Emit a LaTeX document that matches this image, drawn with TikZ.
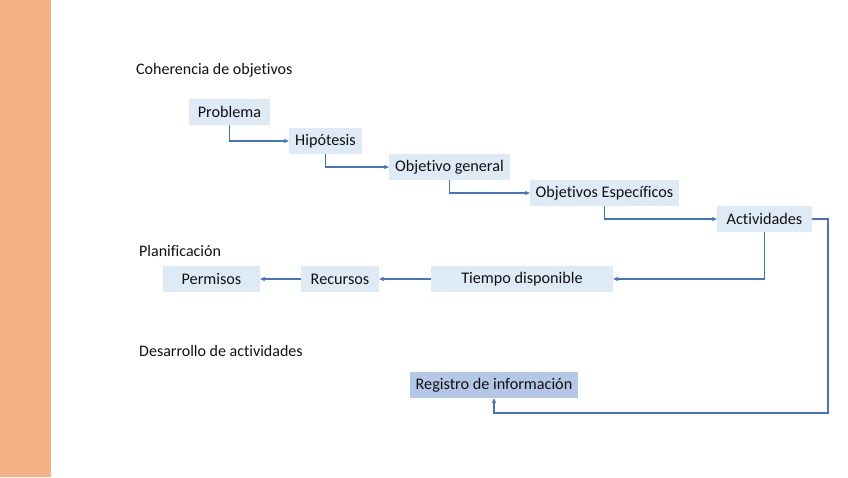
\documentclass[tikz,border=0pt]{standalone}
\usepackage{fontspec}
\setmainfont[Ligatures=NoCommon]{Carlito}
\usetikzlibrary{arrows.meta}
\definecolor{boxblue}{HTML}{DEEBF7}
\definecolor{boxdark}{HTML}{B4C7E7}
\definecolor{linkblue}{HTML}{4472C4}
\definecolor{barorange}{HTML}{F4B183}
\definecolor{txt}{HTML}{111111}
\begin{document}
\begin{tikzpicture}[x=1pt,y=-1pt,
  box/.style={fill=boxblue, inner sep=0pt, minimum height=26pt, text=txt,
    font=\fontsize{16.2}{19}\selectfont},
  darkbox/.style={box, fill=boxdark},
  link/.style={draw=linkblue, line width=1.1pt, -{Stealth[length=5pt,width=4.5pt]}},
  heading/.style={anchor=west, inner sep=0pt, text=txt, font=\fontsize{16}{19}\selectfont}]
\useasboundingbox (0,0) rectangle (848,477);
\fill[white] (0,0) rectangle (848,477);
\fill[barorange] (0,0) rectangle (51,477);

\node[heading] (h1) at (136,70) {Coherencia de objetivos};
\node[heading] (h2) at (139,251) {Planificación};
\node[heading] (h3) at (139,351) {Desarrollo de actividades};

\node[box, minimum width=81pt]  (prob) at (229.5,112) {Problema};
\node[box, minimum width=73pt]  (hip)  at (325.5,141) {Hipótesis};
\node[box, minimum width=121pt] (og)   at (449.5,167) {Objetivo general};
\node[box, minimum width=149pt] (oe)   at (604.5,193) {Objetivos Específicos};
\node[box, minimum width=95pt]  (act)  at (764.5,219) {Actividades};

\node[box, minimum width=97pt]  (perm) at (211.5,279) {Permisos};
\node[box, minimum width=78pt]  (rec)  at (340,279) {Recursos};
\node[box, minimum width=182pt] (tiem) at (522,279) {Tiempo disponible};

\node[darkbox, minimum width=168pt] (reg) at (494,385) {Registro de información};

\coordinate (c1) at (828,413);

\draw[link] (prob.south) |- (hip.west);
\draw[link] (hip.south) |- (og.west);
\draw[link] (og.south) |- (oe.west);
\draw[link] (oe.south) |- (act.west);
\draw[link] (act.south) |- (tiem.east);
\draw[link] (tiem.west) -- (rec.east);
\draw[link] (rec.west) -- (perm.east);
\draw[link] (act.east) -| (c1) -| (reg.south);
\end{tikzpicture}
\end{document}
